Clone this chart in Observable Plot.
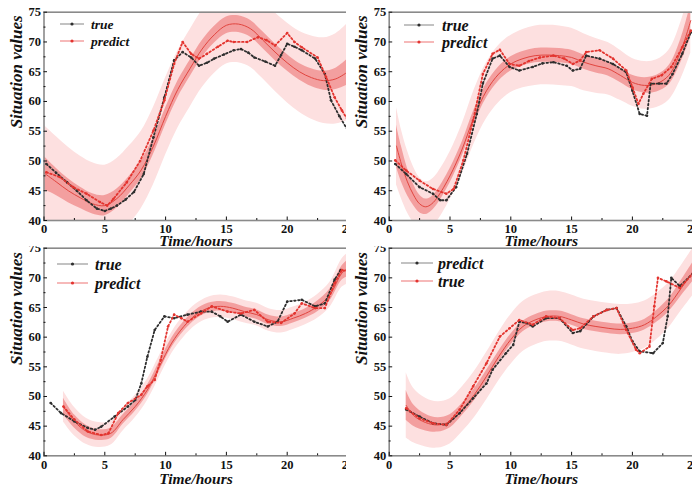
<!DOCTYPE html>
<html><head><meta charset="utf-8">
<script src="https://cdn.jsdelivr.net/npm/d3@7"></script>
<script src="https://cdn.jsdelivr.net/npm/@observablehq/plot@0.6"></script>
<style>
body{margin:0;background:#fff;}
#wrap{position:relative;width:692px;height:492px;overflow:hidden;background:#fff;}
.cell{position:absolute;overflow:hidden;background:#fff;}
.cell > svg{overflow:visible;position:absolute;left:0;top:0;max-width:none !important;}
.leg{position:absolute;left:0;top:0;}
</style></head><body><div id="wrap"></div>
<script>
// ---------- Panel 1 (top-left) ----------
const p1TrueT = [0.2,1.0,1.9,2.7,3.5,4.35,5.0,5.5,6.0,6.7,7.4,8.2,9.0,9.9,10.7,11.4,12.1,12.75,13.4,14.0,14.8,15.6,16.2,16.8,17.3,18.2,19.0,19.5,20.0,20.6,21.2,22.3,23.1,23.6,24.3,25.0];
const p1TrueV = [49.5,48.0,46.4,45.0,43.4,42.0,41.6,42.0,42.5,43.5,44.8,47.8,54.0,60.7,66.9,68.3,67.4,66.0,66.5,67.2,67.9,68.6,68.8,68.2,67.4,66.7,66.0,67.8,69.7,69.2,68.6,67.2,64.6,60.2,57.5,55.1];
const p1PredT = [0.2,1.3,2.4,3.5,4.6,5.2,5.7,6.8,7.9,9.0,9.9,10.7,11.4,12.1,12.75,13.4,14.3,15.1,15.6,16.7,17.6,18.3,19.0,20.0,20.6,21.2,22.5,23.2,23.9,24.5,25.0];
const p1PredV = [48.1,47.3,45.6,44.5,43.1,42.5,43.6,46.4,50.0,55.1,60.2,66.3,70.0,68.0,67.2,68.0,69.2,70.2,70.0,70.0,70.8,70.3,69.4,71.5,70.0,69.1,67.4,64.1,60.7,58.5,56.8];
const p1FitT   = [0,1,2,3,4,5,6,7,8,9,10,11,12,13,14,15,16,17,18,19,20,21,22,23,24,25];
const p1FitMid = [48,46.5,45,43.8,42.8,42.5,43.7,45.9,48.5,52.5,57.5,62,65.5,68.8,71.2,72.8,73,72.2,70.3,68.3,66.5,65,64,63.5,63.8,65];
const p1FitIn  = [2.8,2.3,2,1.8,1.7,1.7,1.6,1.5,1.5,1.4,1.4,1.4,1.4,1.4,1.4,1.4,1.4,1.4,1.4,1.4,1.4,1.4,1.5,1.6,1.8,2.2];
const p1FitOut = [8,7.6,7.3,7,6.9,6.8,6.7,6.6,6.5,6.5,6.5,6.5,6.5,6.5,6.5,6.5,6.5,6.5,6.5,6.6,6.7,6.8,7,7.2,7.6,8.2];

// ---------- Panel 2 (top-right) ----------
const p2TrueT = [0.5,1.4,2.5,3.6,4.2,4.7,5.5,6.4,7.2,7.7,8.5,9.1,9.9,10.7,11.8,12.6,13.5,14.6,15.1,15.7,16.2,17.3,18.4,19.5,20.0,20.6,21.2,21.5,22.2,22.8,23.3,24.1,24.8];
const p2TrueV = [49.5,47.8,45.6,44.5,43.4,43.4,45.6,51.2,57.9,63.0,67.2,67.7,65.8,65.2,65.8,66.4,66.6,66.0,65.2,65.5,67.7,67.2,66.3,64.9,61.8,57.9,57.6,63.0,63.0,63.0,64.6,68.0,71.6];
const p2PredT = [0.5,1.4,2.5,3.6,4.7,5.3,6.1,6.9,7.7,8.5,9.1,9.9,10.7,11.5,12.4,13.5,14.4,15.1,15.7,16.2,17.3,18.4,19.5,20.0,20.5,20.9,21.6,22.4,23.2,24.1,24.8];
const p2PredV = [50.1,48.4,46.7,45.3,44.5,45.3,50.1,56.8,64.6,68.0,68.7,66.3,66.0,66.8,67.4,67.7,67.2,66.3,66.9,68.3,68.6,67.2,65.2,62.4,59.6,61.3,63.8,64.4,65.8,69.1,71.9];
const p2FitT   = [0.6,1,1.5,2,2.5,3,3.5,4,5,6,7,8,9,10,11,12,13,14,15,16,17,18,19,20,21,22,23,24,24.8];
const p2FitMid = [52.5,49.5,46.5,44.3,42.8,42.3,42.8,44,47.5,52,57.5,61.8,64.6,66.3,67.2,67.7,67.8,67.7,67.4,66.6,66,65.5,64.4,63.2,62.7,63,64.4,68.6,73.6];
const p2FitIn  = [3.5,3,2.3,1.8,1.5,1.3,1.2,1.2,1.2,1.2,1.2,1.2,1.2,1.2,1.2,1.2,1.2,1.2,1.2,1.2,1.2,1.2,1.2,1.2,1.3,1.4,1.6,2,2.8];
const p2FitOut = [6.5,5.8,5.2,4.7,4.4,4.2,4.1,4,4,4.2,4.5,4.7,4.8,4.8,4.9,5,5,5,4.9,4.8,4.6,4.4,4.2,4,4,4,4.2,4.8,5.5];

// ---------- Panel 3 (bottom-left) ----------
const p3TrueT = [0.55,1.4,2.5,3.6,4.2,4.7,5.8,6.9,7.5,8.0,8.5,9.1,9.9,10.7,11.8,12.9,13.8,14.5,15.1,16.2,17.3,18.4,19.2,20.0,21.2,22.3,23.1,23.9,24.4];
const p3TrueV = [48.9,47.2,45.8,44.7,44.4,44.9,46.6,48.3,49.4,52.2,56.7,61.2,63.5,63.2,63.8,64.3,64.3,63.5,62.6,63.8,62.6,61.8,62.6,66.0,66.3,65.2,65.7,69.7,71.3];
const p3PredT = [1.6,2.5,3.6,4.7,5.3,6.1,6.9,8.0,8.5,9.1,9.6,10.2,10.7,11.3,11.8,12.9,13.8,15.1,16.2,17.3,18.4,19.5,20.6,21.2,22.3,23.1,23.9,24.5,25.0];
const p3PredV = [48.3,46.1,44.1,43.5,43.8,47.2,48.9,50.3,51.7,52.8,56.2,61.8,63.8,63.2,62.6,64.0,65.2,64.3,64.0,64.6,62.6,62.4,64.0,65.7,64.9,64.9,69.1,71.3,71.1];
const p3FitT   = [1.6,2.5,3.5,4.5,5.5,6.5,7.5,8.5,9.5,10.5,11.5,12.5,13.5,14.5,15.5,16.5,17.5,18.5,19.5,20.5,21.5,22.5,23.5,24.5,25];
const p3FitMid = [48.3,45.8,44.1,43.5,43.8,46.1,48.3,51.1,55.1,59,61.8,63.8,64.9,65.2,64.9,64.3,63.8,62.9,62.6,63.2,64,65.2,67.1,70.8,71.6];
const p3FitIn  = [1.4,1.1,1,0.9,0.9,0.8,0.8,0.8,0.8,0.8,0.8,0.8,0.8,0.8,0.8,0.8,0.8,0.8,0.8,0.8,0.8,0.9,1,1.2,1.4];
const p3FitOut = [2.6,2.4,2.2,2.1,2,1.9,1.9,1.8,1.8,1.8,1.8,1.8,1.85,1.9,1.9,1.9,1.9,1.9,1.9,1.9,1.9,2,2.1,2.4,2.6];

// ---------- Panel 4 (bottom-right) ----------
const p4BlackT = [1.4,2.5,3.6,4.7,5.8,6.9,8.0,8.5,9.6,10.2,10.7,11.3,11.8,12.9,14.0,15.1,15.7,16.8,17.9,18.7,19.5,20.0,20.6,21.7,22.5,22.9,23.2,23.9,25.0];
const p4BlackV = [47.8,46.6,45.5,45.2,47.2,49.7,52.2,54.5,57.3,58.7,62.6,62.4,61.8,63.2,63.2,60.7,61.0,63.5,64.6,64.9,61.8,59.3,57.6,57.3,59.0,63.5,70.0,68.6,70.8];
const p4RedT   = [1.4,2.5,3.6,4.7,5.8,6.9,8.0,9.1,9.9,10.7,11.8,12.9,14.0,15.1,15.7,16.8,17.9,18.7,19.5,20.3,20.6,21.4,21.8,22.1,22.8,23.9,25.0];
const p4RedV   = [48.0,46.3,45.5,45.2,47.8,51.7,55.6,60.1,61.5,62.9,62.1,63.5,63.2,61.2,61.5,63.5,64.6,64.9,61.2,57.9,57.3,58.4,65.2,70.0,69.4,68.3,70.8];
const p4FitT   = [1.4,2,3,4,5,6,7,8,9,10,11,12,13,14,15,16,17,18,19,20,21,22,23,24,25];
const p4FitMid = [48.5,46.8,45.6,45.2,45.8,47.8,50.3,53.4,56.7,59.6,61.8,62.9,63.5,63.5,62.9,62.2,61.8,61.5,61.3,61.5,62.1,63.5,65.4,68.2,71.1];
const p4FitIn  = [2.5,1.8,1.4,1.2,1.1,1,1,1,0.9,0.9,0.9,0.9,0.9,0.9,0.9,0.9,0.9,0.9,0.9,0.9,0.9,1,1.1,1.3,1.6];
const p4FitOut = [5.5,4.6,4.1,3.9,3.8,3.8,3.9,4,4.1,4.2,4.2,4.2,4.2,4.2,4.2,4.2,4.2,4.2,4.2,4.1,4,3.9,3.8,3.8,4];

// axis ticks & labels
const xMajor = [0,5,10,15,20,25];
const xMinor = [2.5,7.5,12.5,17.5,22.5];
const yMajor = [40,45,50,55,60,65,70,75];
const yMinor = [42.5,47.5,52.5,57.5,62.5,67.5,72.5];
const xTitle = "Time/hours";
const yTitle = "Situation values";

const BLACK = "#2e2e2e", RED = "#e3342f";
const SERIF = "'Liberation Serif', 'DejaVu Serif', serif";

function rows(T, V){ return T.map((t,i)=>({t, v:V[i]})); }
function fitRows(T, M, I, O){ return T.map((t,i)=>({t, m:M[i], i:I[i], o:O[i]})); }

function panel(o){
  const fr = fitRows(o.fitT, o.fitMid, o.fitIn, o.fitOut);
  const sBlack = rows(o.blackT, o.blackV), sRed = rows(o.redT, o.redV);
  return Plot.plot({
    width: o.width, height: o.height,
    marginLeft: o.ml, marginRight: o.width - o.xr, marginTop: o.mt, marginBottom: o.height - o.yb,
    x: {domain: [0, 25]},
    y: {domain: [40, 75]},
    style: {fontFamily: SERIF, fontSize: "12.5px", fontWeight: "bold", color: "#111", background: "transparent", overflow: "visible", maxWidth: "none"},
    marks: [
      Plot.areaY(fr, {x: "t", y1: d => d.m - d.o, y2: d => d.m + d.o, fill: "#fde0e0", curve: "catmull-rom", clip: true}),
      Plot.areaY(fr, {x: "t", y1: d => d.m - d.i, y2: d => d.m + d.i, fill: "#f08f8f", fillOpacity: 0.8, curve: "catmull-rom", clip: true}),
      Plot.line(fr, {x: "t", y: "m", stroke: "#e0453f", strokeWidth: 1, curve: "catmull-rom", clip: true}),
      Plot.line(sBlack, {x: "t", y: "v", stroke: BLACK, strokeWidth: 1.8, strokeDasharray: "1.6,2.4", clip: true}),
      Plot.dot(sBlack, {x: "t", y: "v", r: 1.3, fill: BLACK, clip: true}),
      Plot.line(sRed, {x: "t", y: "v", stroke: RED, strokeWidth: 1.8, strokeDasharray: "1.6,2.4", clip: true}),
      Plot.dot(sRed, {x: "t", y: "v", r: 1.3, fill: RED, clip: true}),
      Plot.frame({stroke: "#8a8a8a", strokeWidth: 1.6}),
      Plot.axisX({ticks: xMajor, tickSize: 0, tickPadding: 4, label: null, fontWeight: "bold"}),
      Plot.axisX({ticks: xMajor, tickSize: -3.5, tickFormat: () => "", label: null}),
      Plot.axisX({ticks: xMinor, tickSize: -2, tickFormat: () => "", label: null}),
      Plot.axisY({ticks: yMajor, tickSize: 0, tickPadding: 3, label: null, fontWeight: "bold"}),
      Plot.axisY({ticks: yMajor, tickSize: -3.5, tickFormat: () => "", label: null}),
      Plot.axisY({ticks: yMinor, tickSize: -2, tickFormat: () => "", label: null}),
      Plot.text([xTitle], {frameAnchor: "bottom", dy: o.xTitleDy, lineAnchor: "bottom", fontSize: 15.5, fontWeight: "bold", fontStyle: "italic", fill: "#111"}),
      Plot.text([yTitle], {frameAnchor: "left", dx: -27.5, dy: o.yTitleDy, rotate: -90, fontSize: 17, fontWeight: "bold", fontStyle: "italic", fill: "#111"})
    ]
  });
}

function legend(cell, items, x0, x1, tx, ys, fs){
  const svg = d3.select(cell).append("svg").attr("class", "leg")
    .attr("width", 346).attr("height", 246);
  items.forEach((it, k) => {
    const y = ys[k];
    svg.append("line").attr("x1", x0).attr("x2", x1).attr("y1", y).attr("y2", y)
      .attr("stroke", it.line).attr("stroke-width", 1.2);
    svg.append("circle").attr("cx", (x0 + x1) / 2).attr("cy", y).attr("r", 1.6).attr("fill", it.dot);
    svg.append("text").attr("x", tx).attr("y", y).attr("dy", "0.35em")
      .attr("font-family", SERIF).attr("font-weight", "bold").attr("font-style", "italic")
      .attr("font-size", fs).attr("fill", "#111").text(it.label);
  });
}

const wrap = document.getElementById("wrap");
function cell(left, top, w, h){
  const d = document.createElement("div");
  d.className = "cell";
  Object.assign(d.style, {left: left + "px", top: top + "px", width: w + "px", height: h + "px"});
  wrap.appendChild(d);
  return d;
}

const blackItem = lab => ({label: lab, line: "#9a9a9a", dot: BLACK});
const redItem = lab => ({label: lab, line: "#f08a8a", dot: RED});

// Panel 1
let c = cell(0, 0, 346, 246);
c.appendChild(panel({width: 358, height: 262, ml: 43.5, xr: 347.5, mt: 11.7, yb: 220, xTitleDy: 25, yTitleDy: 12,
  blackT: p1TrueT, blackV: p1TrueV, redT: p1PredT, redV: p1PredV,
  fitT: p1FitT, fitMid: p1FitMid, fitIn: p1FitIn, fitOut: p1FitOut}));
legend(c, [blackItem("true"), redItem("predict")], 60, 84, 91, [24, 41], 13.5);

// Panel 2
c = cell(346, 0, 346, 246);
c.appendChild(panel({width: 358, height: 262, ml: 42.7, xr: 346.7, mt: 11.7, yb: 220, xTitleDy: 25, yTitleDy: 12,
  blackT: p2TrueT, blackV: p2TrueV, redT: p2PredT, redV: p2PredV,
  fitT: p2FitT, fitMid: p2FitMid, fitIn: p2FitIn, fitOut: p2FitOut}));
legend(c, [blackItem("true"), redItem("predict")], 58, 88, 96, [25, 42], 16);

// Panel 3
c = cell(0, 246, 346, 246);
c.appendChild(panel({width: 358, height: 246, ml: 43.5, xr: 347.5, mt: 1.7, yb: 209.3, xTitleDy: 27.7, yTitleDy: 13,
  blackT: p3TrueT, blackV: p3TrueV, redT: p3PredT, redV: p3PredV,
  fitT: p3FitT, fitMid: p3FitMid, fitIn: p3FitIn, fitOut: p3FitOut}));
legend(c, [blackItem("true"), redItem("predict")], 57, 88, 95, [18, 37], 16);

// Panel 4
c = cell(346, 246, 346, 246);
c.appendChild(panel({width: 358, height: 246, ml: 42.7, xr: 346.7, mt: 1.7, yb: 209.3, xTitleDy: 27.7, yTitleDy: 13,
  blackT: p4BlackT, blackV: p4BlackV, redT: p4RedT, redV: p4RedV,
  fitT: p4FitT, fitMid: p4FitMid, fitIn: p4FitIn, fitOut: p4FitOut}));
legend(c, [blackItem("predict"), redItem("true")], 55, 87, 92, [17, 35], 16);
</script>
</body></html>
